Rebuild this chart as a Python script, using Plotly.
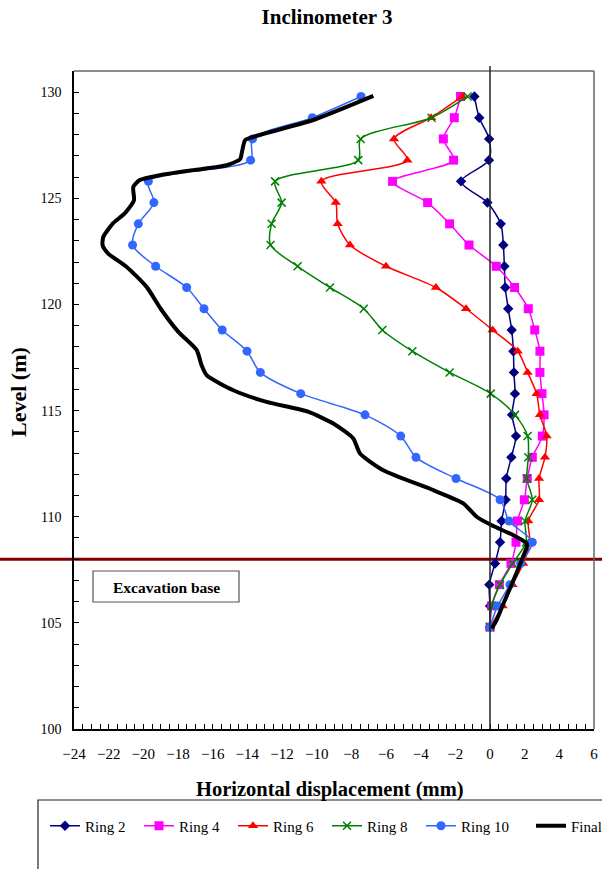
import plotly.graph_objects as go

# Reading levels (m), top to bottom
levels = [129.8, 128.8, 127.8, 126.8, 125.8, 124.8, 123.8, 122.8, 121.8, 120.8,
          119.8, 118.8, 117.8, 116.8, 115.8, 114.8, 113.8, 112.8, 111.8, 110.8,
          109.8, 108.8, 107.8, 106.8, 105.8, 104.8]

# Horizontal displacement (mm) at each level, per excavation stage
ring2 = [-0.9, -0.62, -0.05, -0.06, -1.67, -0.15, 0.62, 0.77, 0.83, 0.88,
         1.05, 1.25, 1.35, 1.38, 1.44, 1.27, 1.5, 1.23, 0.94, 0.9,
         0.67, 0.58, 0.29, -0.04, 0.0, 0.0]
ring4 = [-1.7, -2.06, -2.69, -2.1, -5.62, -3.6, -2.33, -1.21, 0.36, 1.42,
         2.21, 2.58, 2.88, 2.88, 3.0, 3.12, 3.02, 2.44, 2.15, 1.98,
         1.58, 1.5, 1.21, 0.54, 0.1, 0.0]
ring6 = [-1.6, -3.4, -5.54, -4.77, -9.73, -8.9, -8.79, -8.08, -6.0, -3.12,
         -1.38, 0.15, 1.6, 2.17, 2.69, 2.88, 3.27, 3.17, 2.83, 2.83,
         2.21, 2.3, 1.92, 1.3, 0.73, 0.0]
ring8 = [-1.29, -3.37, -7.46, -7.6, -12.4, -12.02, -12.6, -12.66, -11.1, -9.23,
         -7.28, -6.21, -4.48, -2.33, 0.04, 1.44, 2.17, 2.21, 2.12, 2.44,
         2.02, 2.08, 1.31, 0.58, 0.1, 0.0]
ring10 = [-7.44, -10.25, -13.7, -13.81, -19.71, -19.39, -20.29, -20.62, -19.29, -17.5,
          -16.5, -15.45, -14.02, -13.25, -10.92, -7.21, -5.15, -4.27, -1.96, 0.58,
          1.1, 2.44, 1.77, 1.15, 0.44, 0.0]

# Final profile (continuous trace)
final_x = [-6.73, -10.25, -13.66, -14.13, -14.33, -14.42, -15.19, -17.12, -19.04, -20.2,
           -20.58, -20.54, -21.06, -21.74, -22.31, -22.35, -22.03, -20.96, -19.81, -19.0,
           -17.98, -16.92, -16.64, -16.35, -14.81, -12.89, -10.5, -9.04, -7.89, -7.5,
           -6.16, -3.27, -1.54, -0.77, 0.1, 1.35, 2.12, 2.12, 1.83, 1.35,
           0.77, 0.38, 0.1]
final_y = [129.83, 128.68, 127.9, 127.74, 127.1, 126.84, 126.56, 126.33, 126.09, 125.86,
           125.54, 124.91, 124.3, 123.83, 123.18, 122.79, 122.4, 121.77, 120.83, 119.8,
           118.71, 117.85, 117.14, 116.67, 115.96, 115.41, 114.95, 114.39, 113.69, 112.98,
           112.19, 111.25, 110.63, 110.0, 109.6, 109.13, 108.74, 108.58, 107.96, 107.0,
           105.9, 105.13, 104.74]

excavation_level = 108.0
x_range = [-24, 6]
y_range = [100, 131]
x_ticks = list(range(-24, 7, 2))
y_ticks = list(range(100, 131, 5))

FONT = "Liberation Serif"

series = [
    ("Ring 2", ring2, "#000080", dict(symbol="diamond", size=8)),
    ("Ring 4", ring4, "#FF00FF", dict(symbol="square", size=9)),
    ("Ring 6", ring6, "#FF0000", dict(symbol="triangle-up", size=9)),
    ("Ring 8", ring8, "#008000", dict(symbol="x-thin", size=8, line=dict(width=1.5, color="#008000"))),
    ("Ring 10", ring10, "#3366FF", dict(symbol="circle", size=9)),
]

fig = go.Figure()
for name, vals, color, marker in series:
    fig.add_trace(go.Scatter(
        x=vals, y=levels, name=name, mode="lines+markers",
        line=dict(color=color, width=1.5, shape="spline", smoothing=0.8),
        marker=dict(color=color, **marker),
        legend="legend",
    ))

fig.add_trace(go.Scatter(
    x=final_x, y=final_y, name="Final", mode="lines",
    line=dict(color="black", width=4, shape="spline", smoothing=0.6),
    legend="legend2",
))

L, R, T, B = 74, 8, 71, 140
W, H = 602, 869
pw, ph = W - L - R, H - T - B

def px_x(p):
    return (p - L) / pw

def px_y(p):
    return (H - B - p) / ph

shapes = [
    # frame top / right
    dict(type="line", xref="paper", yref="paper", x0=0, x1=1, y0=1, y1=1,
         line=dict(color="#666666", width=1.5)),
    dict(type="line", xref="paper", yref="paper", x0=1, x1=1, y0=0, y1=1,
         line=dict(color="#666666", width=1.5)),
    # zero displacement reference
    dict(type="line", xref="paper", yref="paper",
         x0=(0 - x_range[0]) / (x_range[1] - x_range[0]),
         x1=(0 - x_range[0]) / (x_range[1] - x_range[0]),
         y0=0, y1=px_y(66), line=dict(color="#222222", width=1.5)),
    # excavation base level
    dict(type="line", xref="paper", yref="paper", x0=px_x(0), x1=px_x(W),
         y0=(excavation_level - y_range[0]) / (y_range[1] - y_range[0]),
         y1=(excavation_level - y_range[0]) / (y_range[1] - y_range[0]),
         line=dict(color="#800000", width=3), layer="below"),
    # excavation base label box
    dict(type="rect", xref="paper", yref="paper", x0=px_x(93), x1=px_x(239),
         y0=px_y(602), y1=px_y(571), line=dict(color="#555555", width=1.2),
         fillcolor="white"),
    # legend frame
    dict(type="rect", xref="paper", yref="paper", x0=px_x(38), x1=px_x(620),
         y0=px_y(890), y1=px_y(800), line=dict(color="#222222", width=1.2)),
]

annotations = [
    dict(text="<b>Excavation base</b>", xref="paper", yref="paper",
         x=px_x(166), y=px_y(587), xanchor="center", yanchor="middle",
         showarrow=False, font=dict(family=FONT, size=15.5, color="black")),
    dict(text="<b>Horizontal displacement (mm)</b>", xref="paper", yref="paper",
         x=px_x(330), y=px_y(790), xanchor="center", yanchor="middle",
         showarrow=False, font=dict(family=FONT, size=20.5, color="black")),
    dict(text="<b>Level (m)</b>", xref="paper", yref="paper",
         x=px_x(18), y=px_y(392), xanchor="center", yanchor="middle",
         showarrow=False, textangle=-90,
         font=dict(family=FONT, size=22, color="black")),
]

legend_common = dict(orientation="h", xanchor="left", yanchor="middle",
                     font=dict(family=FONT, size=15), bgcolor="rgba(0,0,0,0)",
                     borderwidth=0)

fig.update_layout(
    width=W, height=H,
    margin=dict(l=L, r=R, t=T, b=B, autoexpand=False),
    paper_bgcolor="white", plot_bgcolor="rgba(0,0,0,0)",
    font=dict(family=FONT, size=14, color="black"),
    title=dict(text="<b>Inclinometer 3</b>", x=327 / W, y=1 - 17 / H,
               xanchor="center", yanchor="middle",
               font=dict(family=FONT, size=21, color="black")),
    xaxis=dict(range=x_range, tickvals=x_ticks, ticks="inside", ticklen=5,
               tickcolor="black", showline=True, linecolor="black", linewidth=1.5,
               showgrid=False, zeroline=False, ticklabelstandoff=10,
               minor=dict(dtick=0.5, ticks="inside", ticklen=5, tickcolor="black"),
               tickfont=dict(family=FONT, size=15)),
    yaxis=dict(range=y_range, tickvals=y_ticks, ticks="inside", ticklen=5,
               tickcolor="black", showline=True, linecolor="black", linewidth=1.5,
               showgrid=False, zeroline=False, ticklabelstandoff=8,
               minor=dict(dtick=1, ticks="inside", ticklen=5, tickcolor="black"),
               tickfont=dict(family=FONT, size=14)),
    legend=dict(x=px_x(45), y=px_y(826), entrywidth=49, entrywidthmode="pixels",
                **legend_common),
    legend2=dict(x=px_x(531), y=px_y(826), **legend_common),
    shapes=shapes,
    annotations=annotations,
    showlegend=True,
)

fig.write_html("out.html")
